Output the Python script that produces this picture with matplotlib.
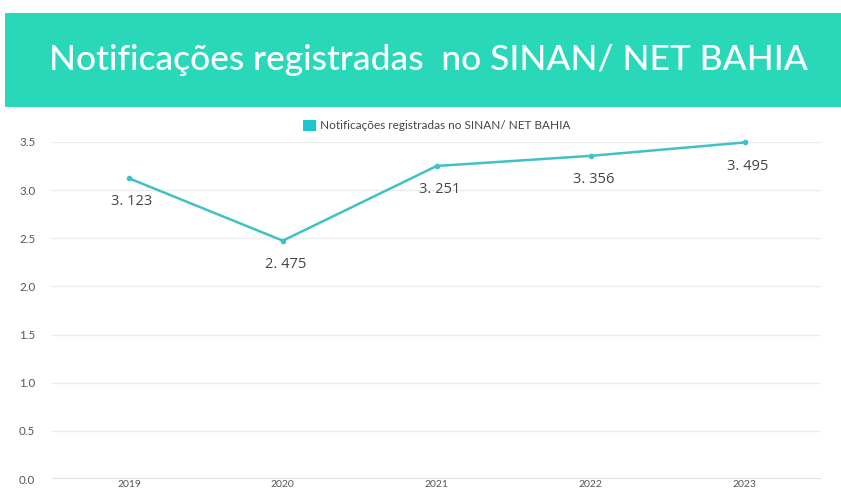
import matplotlib.pyplot as plt
from matplotlib.patches import Rectangle

# Data
anos = ['2019', '2020', '2021', '2022', '2023']
notificacoes = [3.123, 2.475, 3.251, 3.356, 3.495]
rotulos = ['3. 123', '2. 475', '3. 251', '3. 356', '3. 495']
serie = 'Notificações registradas no SINAN/ NET BAHIA'
titulo = 'Notificações registradas  no SINAN/ NET BAHIA'

plt.rcParams['font.family'] = ['Lato', 'DejaVu Sans']

fig = plt.figure(figsize=(8.41, 4.92), dpi=100)

# Banner
fig.patches.append(Rectangle((5 / 841, 0.7825), 1, 0.191, transform=fig.transFigure,
                             facecolor='#29d7b9', edgecolor='none', zorder=0))
fig.text(0.509, 0.878, titulo, color='white', fontsize=25.5, ha='center', va='center',
         fontweight='medium')

ax = fig.add_axes([0.0618, 0.0264, 0.915, 0.685])
x = list(range(len(anos)))
ax.plot(x, notificacoes, color='#3fc1c6', linewidth=1.8, marker='o', markersize=3,
        label=serie, clip_on=False)
for xi, v, r in zip(x, notificacoes, rotulos):
    ax.annotate(r, (xi, v), xytext=(2, -17), textcoords='offset points',
                ha='center', va='center', fontsize=10.5, color='#444444',
                family=['Open Sans', 'DejaVu Sans'])

ax.set_xlim(-0.5, 4.5)
ax.set_ylim(0, 3.5)
ax.set_xticks(x)
ax.set_xticklabels(anos)
ax.set_yticks([0, 0.5, 1.0, 1.5, 2.0, 2.5, 3.0, 3.5])
ax.set_yticklabels(['0.0', '0.5', '1.0', '1.5', '2.0', '2.5', '3.0', '3.5'])
ax.tick_params(length=0, labelsize=8.3, labelcolor='#555555')
ax.tick_params(axis='x', pad=1, labelsize=7.5)
ax.tick_params(axis='y', pad=12)
ax.grid(axis='y', color='#ececec', linewidth=1)
ax.set_axisbelow(True)
for s in ax.spines.values():
    s.set_visible(False)
ax.axhline(0, color='#d8d8d8', linewidth=1.2, zorder=0)

leg = ax.legend(handles=[Rectangle((0, 0), 1, 1, facecolor='#1ec6d0')], labels=[serie],
                loc='lower center', bbox_to_anchor=(0.5, 1.0), frameon=False,
                fontsize=8.5, handlelength=1.1, handleheight=1.1, handletextpad=0.4,
                borderaxespad=0.5)
for t in leg.get_texts():
    t.set_color('#444444')

fig.savefig('out.png', dpi=100, facecolor='white')
